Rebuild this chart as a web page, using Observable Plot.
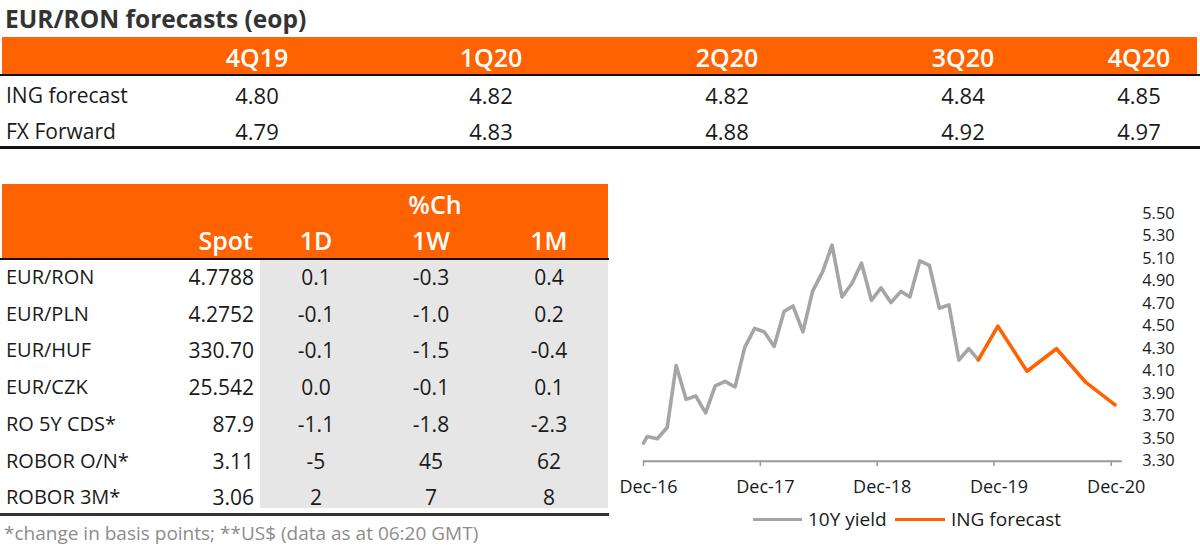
<!DOCTYPE html>
<html>
<head>
<meta charset="utf-8">
<script src="https://cdn.jsdelivr.net/npm/d3@7"></script>
<script src="https://cdn.jsdelivr.net/npm/@observablehq/plot@0.6"></script>
<style>
  html, body { margin: 0; padding: 0; background: #fff; }
  #root { position: relative; width: 1200px; height: 554px; overflow: hidden; font-family: "Open Sans", "Noto Sans", sans-serif; color: #1a1a1a; }
  .t { position: absolute; line-height: 1; white-space: nowrap; }
  .box { position: absolute; }
  #chart { position: absolute; left: 600px; top: 190px; }
</style>
</head>
<body>
<div id="root"></div>
<script>
// ---------- data ----------
const title = "EUR/RON forecasts (eop)";
const quarters = ["4Q19", "1Q20", "2Q20", "3Q20", "4Q20"];
const forecastRows = ["ING forecast", "FX Forward"];
const ingForecast = [4.80, 4.82, 4.82, 4.84, 4.85];
const fxForward = [4.79, 4.83, 4.88, 4.92, 4.97];

const changeHeader = "%Ch";
const marketCols = ["Spot", "1D", "1W", "1M"];
const instruments = ["EUR/RON", "EUR/PLN", "EUR/HUF", "EUR/CZK", "RO 5Y CDS*", "ROBOR O/N*", "ROBOR 3M*"];
const spot = ["4.7788", "4.2752", "330.70", "25.542", "87.9", "3.11", "3.06"];
const ch1D = ["0.1", "-0.1", "-0.1", "0.0", "-1.1", "-5", "2"];
const ch1W = ["-0.3", "-1.0", "-1.5", "-0.1", "-1.8", "45", "7"];
const ch1M = ["0.4", "0.2", "-0.4", "0.1", "-2.3", "62", "8"];
const footnote = "*change in basis points; **US$ (data as at 06:20 GMT)";

const yieldDates = ["2016-12-01", "2016-12-13", "2017-01-13", "2017-02-13", "2017-03-13", "2017-04-13", "2017-05-13",
  "2017-06-13", "2017-07-13", "2017-08-13", "2017-09-13", "2017-10-13", "2017-11-13", "2017-12-13",
  "2018-01-13", "2018-02-13", "2018-03-13", "2018-04-13", "2018-05-13", "2018-06-13", "2018-07-13",
  "2018-08-13", "2018-09-13", "2018-10-13", "2018-11-13", "2018-12-13", "2019-01-13", "2019-02-13",
  "2019-03-13", "2019-04-13", "2019-05-13", "2019-06-13", "2019-07-13", "2019-08-13", "2019-09-13", "2019-10-13"];
const yieldValues = [3.46, 3.52, 3.50, 3.60, 4.15, 3.85, 3.88, 3.73, 3.97, 4.01, 3.96, 4.31, 4.48, 4.45,
  4.32, 4.63, 4.68, 4.45, 4.81, 4.98, 5.22, 4.76, 4.88, 5.06, 4.73, 4.84, 4.71, 4.81, 4.76, 5.08, 5.04,
  4.66, 4.69, 4.20, 4.30, 4.20];
const forecastDates = ["2019-10-13", "2019-12-13", "2020-03-13", "2020-06-13", "2020-09-13", "2020-12-13"];
const forecastValues = [4.20, 4.50, 4.10, 4.30, 4.00, 3.80];

const xTickDates = ["2016-12-01", "2017-12-01", "2018-12-01", "2019-12-01", "2020-12-01"];
const xTickLabels = ["Dec-16", "Dec-17", "Dec-18", "Dec-19", "Dec-20"];
const yTicks = [3.3, 3.5, 3.7, 3.9, 4.1, 4.3, 4.5, 4.7, 4.9, 5.1, 5.3, 5.5];
const legendLabels = ["10Y yield", "ING forecast"];

// ---------- styling ----------
const ORANGE = "#ff6200";
const GREY_LINE = "#a5a5a5";
const TEXT = "#1a1a1a";

const root = document.getElementById("root");

function box(x, y, w, h, bg) {
  const el = document.createElement("div");
  el.className = "box";
  el.style.cssText = `left:${x}px;top:${y}px;width:${w}px;height:${h}px;background:${bg};`;
  root.appendChild(el);
  return el;
}
function label(text, x, y, opt = {}) {
  const { anchor = "middle", size = 20, weight = 400, color = TEXT } = opt;
  const tx = anchor === "middle" ? -50 : anchor === "end" ? -100 : 0;
  const el = document.createElement("div");
  el.className = "t";
  el.textContent = text;
  el.style.cssText = `left:${x}px;top:${y}px;font-size:${size}px;font-weight:${weight};color:${color};transform:translate(${tx}%,-50%);`;
  root.appendChild(el);
  return el;
}

// ---------- top table ----------
label(title, 5, 19, { anchor: "start", size: 24.5, weight: 700, color: "#333" });
box(2, 37, 1195, 37, ORANGE);
box(0, 73.5, 1200, 2, "#111");
const qCenters = [257, 491, 727, 963, 1139];
quarters.forEach((q, i) => label(q, qCenters[i], 57, { size: 25, weight: 600, color: "#fff" }));
const topRowY = [95, 131];
[ingForecast, fxForward].forEach((row, r) => {
  label(forecastRows[r], 6, topRowY[r], { anchor: "start", size: 21 });
  row.forEach((v, i) => label(v.toFixed(2), qCenters[i], topRowY[r], { size: 22 }));
});
box(0, 146, 1200, 2.5, "#111");

// ---------- bottom table ----------
box(2, 184, 606, 74, ORANGE);
box(260, 259, 348, 249, "#e6e6e6");
box(0, 257.5, 609, 2, "#111");
box(0, 513, 609, 2.5, "#333");
label(changeHeader, 435, 204, { size: 25, weight: 600, color: "#fff" });
label(marketCols[0], 253, 240, { anchor: "end", size: 25, weight: 600, color: "#fff" });
const chCenters = [316, 431, 549];
marketCols.slice(1).forEach((c, i) => label(c, chCenters[i], 240, { size: 25, weight: 600, color: "#fff" }));
const rowY0 = 277, rowStep = 36.7;
instruments.forEach((name, r) => {
  const y = rowY0 + r * rowStep;
  label(name, 6, y, { anchor: "start", size: 20 });
  label(spot[r], 254, y, { anchor: "end", size: 21 });
  [ch1D, ch1W, ch1M].forEach((col, i) => label(col[r], chCenters[i], y, { size: 21 }));
});
label(footnote, 4, 533, { anchor: "start", size: 19, color: "#8c8c8c" });

// ---------- line chart ----------
const parse = d3.utcParse("%Y-%m-%d");
const yieldData = yieldDates.map((d, i) => ({ date: parse(d), value: yieldValues[i] }));
const forecastData = forecastDates.map((d, i) => ({ date: parse(d), value: forecastValues[i] }));
const tickDates = xTickDates.map(parse);

const chart = Plot.plot({
  width: 600,
  height: 320,
  marginTop: 23.2,
  marginBottom: 49.3,
  marginLeft: 43,
  marginRight: 89.3,
  style: { fontFamily: "'Open Sans', 'Noto Sans', sans-serif", color: TEXT, background: "transparent", overflow: "visible" },
  x: { type: "utc", domain: [parse("2016-12-01"), parse("2020-12-01")], label: null },
  y: { domain: [3.3, 5.5], label: null },
  marks: [
    Plot.ruleY([3.3], { x1: parse("2016-12-01"), x2: parse("2021-01-05"), stroke: "#999", strokeWidth: 2 }),
    Plot.ruleX(tickDates, { x: d => d, y1: 3.3, y2: 3.252, stroke: "#999", strokeWidth: 1.5 }),
    Plot.axisX({
      ticks: tickDates,
      tickFormat: d => xTickLabels[tickDates.findIndex(t => +t === +d)],
      tickSize: 0, tickPadding: 19, dx: 5, fontSize: 18, fill: TEXT, label: null
    }),
    Plot.axisY({
      anchor: "right", ticks: yTicks, tickFormat: d => d.toFixed(2),
      tickSize: 0, tickPadding: 31, fontSize: 16.4, fill: TEXT, label: null
    }),
    Plot.line(yieldData, { x: "date", y: "value", stroke: GREY_LINE, strokeWidth: 3.6 }),
    Plot.line(forecastData, { x: "date", y: "value", stroke: ORANGE, strokeWidth: 3.6 })
  ]
});
const holder = document.createElement("div");
holder.id = "chart";
holder.appendChild(chart);
root.appendChild(holder);

// ---------- legend ----------
const legendItems = [
  { sx: 753, ex: 802, tx: 808, color: GREY_LINE },
  { sx: 895, ex: 945, tx: 951, color: ORANGE }
];
legendItems.forEach((it, i) => {
  box(it.sx, 517.5, it.ex - it.sx, 3.6, it.color);
  label(legendLabels[i], it.tx, 519, { anchor: "start", size: 19 });
});
</script>
</body>
</html>
